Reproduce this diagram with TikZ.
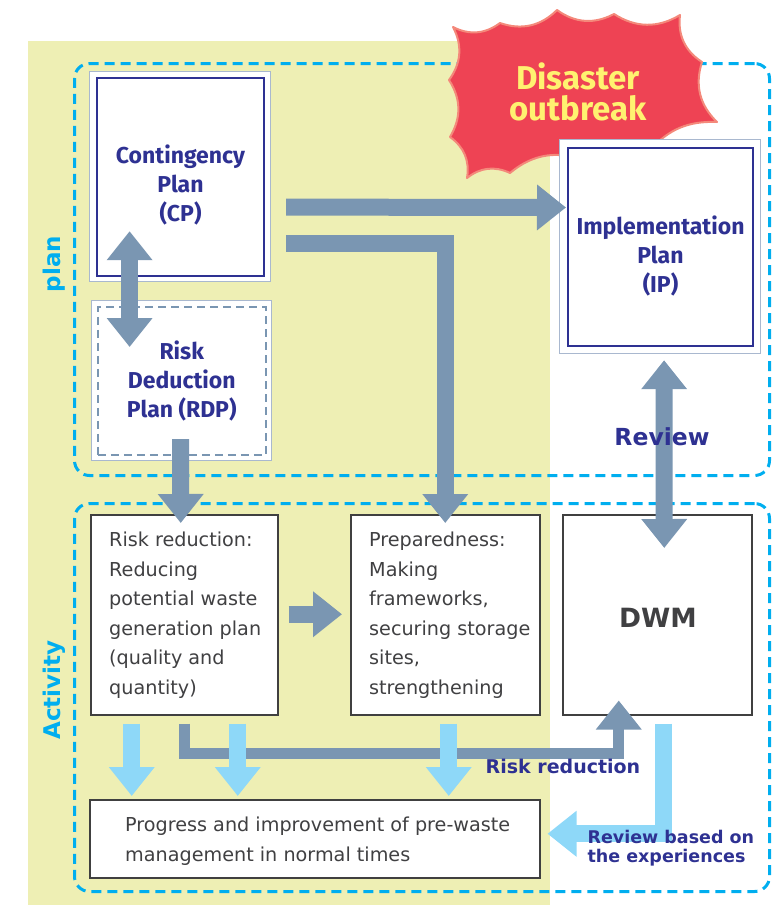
\documentclass[tikz,border=0pt]{standalone}
\usepackage{fontspec}
\setmainfont{DejaVu Sans}
\newfontfamily\firafont{Fira Sans}
\usetikzlibrary{arrows.meta,calc}
\definecolor{ybg}{HTML}{EEEFB4}
\definecolor{cyanl}{HTML}{00AEEF}
\definecolor{steel}{HTML}{7A96B2}
\definecolor{lblue}{HTML}{8ED8F8}
\definecolor{dblue}{HTML}{2E3192}
\definecolor{lborder}{HTML}{A9B8CF}
\definecolor{txtgray}{HTML}{404042}
\definecolor{burstred}{HTML}{EE4354}
\definecolor{burstedge}{HTML}{F4897B}
\definecolor{burstyel}{HTML}{FFF270}
\begin{document}
\begin{tikzpicture}[x=1pt,y=-1pt,
 frame/.style={draw=cyanl, line width=3pt, dash pattern=on 10pt off 6pt, rounded corners=15pt, anchor=north west, inner sep=0pt},
 outerbox/.style={draw=lborder, fill=white, line width=1.2pt, anchor=north west, inner sep=0pt},
 innerbox/.style={draw=dblue, line width=2pt, anchor=north west, inner sep=0pt},
 rdpinner/.style={draw=steel, line width=1.5pt, dash pattern=on 8pt off 5pt, anchor=north west, inner sep=0pt},
 actbox/.style={draw=black!75, fill=white, line width=1.5pt, anchor=north west, inner sep=0pt},
 plantext/.style={font=\firafont\bfseries\fontsize{23}{29}\selectfont, text=dblue, align=center},
 bodytext/.style={font=\fontsize{19.2}{29.5}\selectfont, text=txtgray, align=left, anchor=north west, inner sep=0pt},
 fat/.style={draw=steel, line width=17pt, line join=miter, -{Triangle[length=29pt,width=44pt]}},
 fatboth/.style={draw=steel, line width=17pt, {Triangle[length=29pt,width=44pt]}-{Triangle[length=29pt,width=44pt]}},
 slim/.style={draw=steel, line width=11pt, line join=miter, -{Triangle[length=29pt,width=44pt]}},
 lightfat/.style={draw=lblue, line width=17pt, line join=miter, -{Triangle[length=29pt,width=44pt]}},
 boldlabel/.style={font=\bfseries\fontsize{17.5}{19}\selectfont, text=dblue},
 sidelabel/.style={font=\bfseries\fontsize{23}{26}\selectfont, text=cyanl, rotate=90},
 burst/.style={fill=burstred, draw=burstedge, line width=2pt, line join=round},
]
\useasboundingbox (0,0) rectangle (776,905);
% background
\fill[ybg] (28,41) rectangle (550,905);
% frames
\node[frame, minimum width=695pt, minimum height=412pt] (planframe) at (73,62) {};
\node[frame, minimum width=695pt, minimum height=388pt] (actframe) at (73,502) {};
\node[sidelabel] (plan) at (54,264) {plan};
\node[sidelabel] (activity) at (54,690) {Activity};
% starburst
\draw[burst] (453,27) to[bend right=32] (500,23) to[bend right=32] (557,10)
  to[bend right=32] (614,14) to[bend right=32] (680,15) to[bend right=32] (702,62)
  to[bend right=32] (717,122) to[bend right=25] (650,150) to[bend right=32] (587,162)
  to[bend right=32] (510,173) to[bend right=32] (467,178) to[bend right=32] (450,137)
  to[bend right=32] (449,80) to[bend right=32] (453,27) -- cycle;
\node[font=\firafont\bfseries\fontsize{33}{31}\selectfont, text=burstyel, align=center] (disaster) at (578,92) {Disaster\\outbreak};
% plan boxes
\node[outerbox, minimum width=181pt, minimum height=210pt] (cpo) at (89,71) {};
\node[innerbox, minimum width=167pt, minimum height=198pt] (cpi) at (96,77) {};
\node[plantext] (cpt) at ($(cpi.center)+(0,8)$) {Contingency\\Plan\\(CP)};
\node[outerbox, minimum width=180pt, minimum height=160pt] (rdpo) at (91,300) {};
\node[rdpinner, minimum width=168pt, minimum height=148pt] (rdpi) at (97,306) {};
\node[plantext] (rdpt) at (rdpi.center) {Risk\\Deduction\\Plan (RDP)};
\node[outerbox, minimum width=201pt, minimum height=214pt] (ipo) at (559,139) {};
\node[innerbox, minimum width=185pt, minimum height=198pt] (ipi) at (567,147) {};
\node[plantext] (ipt) at ($(ipi.center)+(0,9)$) {Implementation\\Plan\\(IP)};
% activity boxes
\node[actbox, minimum width=187pt, minimum height=200pt] (rr) at (90,514) {};
\node[bodytext] (rrt) at (109,532) {Risk reduction:\\Reducing\\potential waste\\generation plan\\(quality and\\quantity)};
\node[actbox, minimum width=189pt, minimum height=200pt] (prep) at (350,514) {};
\node[bodytext] (prept) at (369,532) {Preparedness:\\Making\\frameworks,\\securing storage\\sites,\\strengthening};
\node[actbox, minimum width=189pt, minimum height=200pt] (dwm) at (562,514) {};
\node[font=\bfseries\fontsize{26.5}{28}\selectfont, text=txtgray] (dwmt) at (658,618) {DWM};
\node[actbox, minimum width=450pt, minimum height=78pt] (prog) at (89,799) {};
\node[bodytext] (progt) at (125,817) {Progress and improvement of pre-waste\\management in normal times};
% steel arrows
\draw[fat] ($(cpo.east)+(15,30.5)$) -- ($(ipi.west)+(-1,-39.5)$);
\draw[fat] ($(cpo.east)+(15,67)$) -| ($(prep.north)+(0,9)$);
\draw[fatboth] ($(cpo.south)+(-50.5,-51)$) -- ($(rdpo.north)+(-52,47)$);
\draw[fat] ($(rdpo.south)+(-1,-22)$) -- ($(rr.north)+(-3.5,9)$);
\draw[fatboth] ($(ipo.south)+(4,6)$) -- ($(dwm.north)+(7,34)$);
\draw[fat] ($(rr.east)+(10,-0.5)$) -- ($(prep.west)+(-8,-0.5)$);
\draw[slim] ($(rr.south)+(0,8)$) |- ($(dwm.south)+(-38.5,38)$) -- ($(dwm.south)+(-38.5,-15)$);
% light arrows
\draw[lightfat] ($(rr.south)+(-52.5,8)$) -- ($(prog.north)+(-183,-3)$);
\draw[lightfat] ($(rr.south)+(53.5,8)$) -- ($(prog.north)+(-77,-3)$);
\draw[lightfat] ($(prep.south)+(3.5,8)$) -- ($(prog.north)+(134,-3)$);
\draw[lightfat] ($(dwm.south)+(6.5,8)$) |- ($(prog.east)+(7,-5)$);
% labels
\node[font=\bfseries\fontsize{23.5}{26}\selectfont, text=dblue] (review) at (662,437) {Review};
\node[boldlabel, font=\bfseries\fontsize{19}{21}\selectfont] (rrlabel) at (563,766) {Risk reduction};
\node[boldlabel, align=left, anchor=west] (revexp) at (584,848) {Review based on\\the experiences};
\end{tikzpicture}
\end{document}
